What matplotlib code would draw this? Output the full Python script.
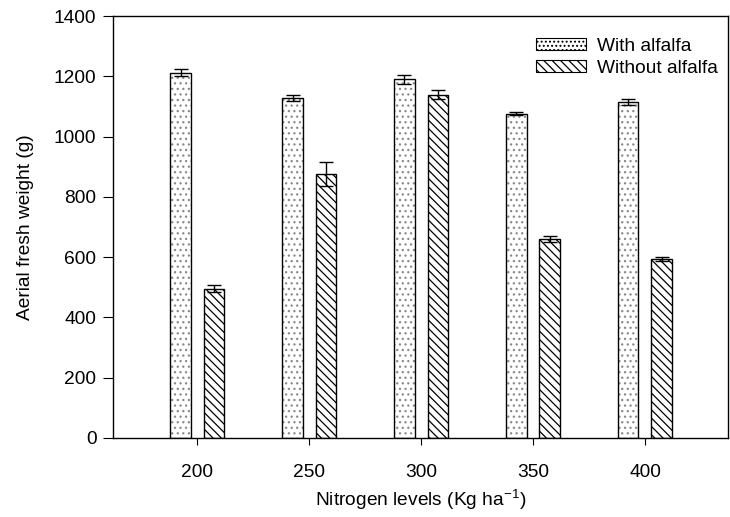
import numpy as np
import matplotlib
matplotlib.use("Agg")
import matplotlib.pyplot as plt
from matplotlib.patches import Patch

plt.rcParams['font.family'] = ['Liberation Sans', 'DejaVu Sans']
plt.rcParams['mathtext.default'] = 'regular'
plt.rcParams['hatch.linewidth'] = 0.9

levels = ["200", "250", "300", "350", "400"]
with_alf = [1212, 1128, 1190, 1075, 1115]
with_err = [12, 10, 15, 5, 9]
without_alf = [495, 877, 1138, 659, 593]
without_err = [12, 40, 15, 10, 6]

x = np.arange(len(levels))
w = 0.18
off = 0.148
fs = 13.8

fig = plt.figure(figsize=(7.3, 5.17), dpi=100)
ax = fig.add_axes([0.155, 0.153, 0.842, 0.816])

# fill hatches in grey, outline in black
ax.bar(x - off, with_alf, w, color='white', edgecolor='#8a8a8a', hatch='...', linewidth=0)
ax.bar(x - off, with_alf, w, fill=False, edgecolor='black', linewidth=1.0)
ax.bar(x + off, without_alf, w, color='white', edgecolor='black', hatch='\\\\\\\\', linewidth=1.0)

ax.errorbar(x - off, with_alf, yerr=with_err, fmt='none', ecolor='black', elinewidth=1, capsize=5, capthick=1)
ax.errorbar(x + off, without_alf, yerr=without_err, fmt='none', ecolor='black', elinewidth=1, capsize=5, capthick=1)

ax.set_xlim(-0.75, 4.74)
ax.set_ylim(0, 1400)
ax.set_yticks(range(0, 1401, 200))
ax.set_xticks(x)
ax.set_xticklabels(levels)
ax.tick_params(axis='both', labelsize=fs, direction='out', top=False, right=False)
ax.tick_params(axis='y', length=7, pad=5)
ax.tick_params(axis='x', length=5, pad=14)
for s in ax.spines.values():
    s.set_linewidth(1.0)

ax.set_xlabel('Nitrogen levels (Kg ha$^{-1}$)', fontsize=fs, labelpad=5)
ax.set_ylabel('Aerial fresh weight (g)', fontsize=fs, labelpad=14)

handles = [Patch(facecolor='white', edgecolor='black', hatch='....', linewidth=0.8),
           Patch(facecolor='white', edgecolor='black', hatch='\\\\\\\\', linewidth=0.8)]
ax.legend(handles, ['With alfalfa', 'Without alfalfa'], loc='upper right', frameon=False,
          fontsize=fs, handlelength=2.6, handleheight=0.6, handletextpad=0.6,
          labelspacing=0.25, bbox_to_anchor=(1.003, 0.975), borderaxespad=0.2)

fig.savefig('out.png', dpi=100)
